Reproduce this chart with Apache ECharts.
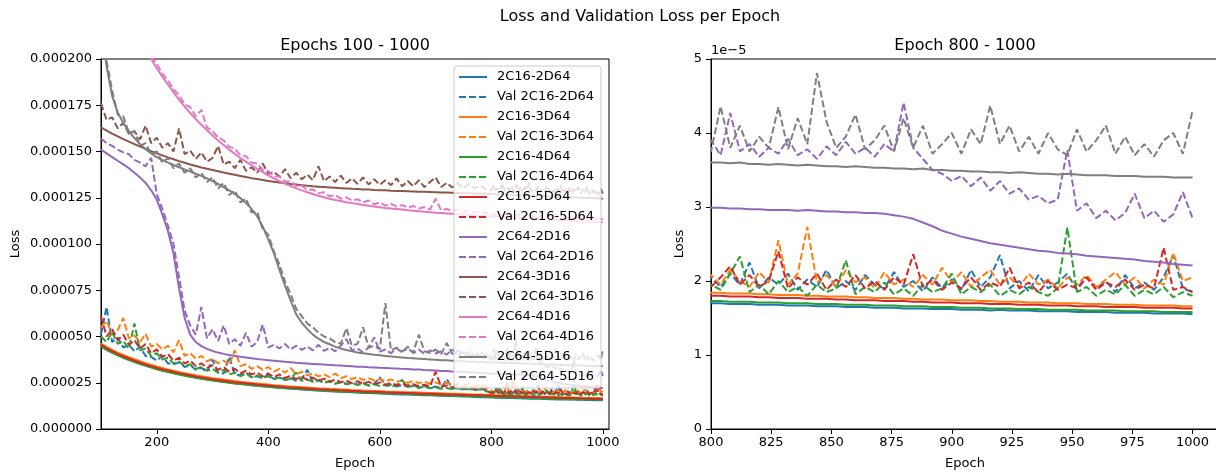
<!DOCTYPE html>
<html><head><meta charset="utf-8">
<script src="https://cdn.jsdelivr.net/npm/echarts@6/dist/echarts.min.js"></script>
<style>html,body{margin:0;padding:0;background:#fff}#c{width:1216px;height:473px}</style>
</head><body><div id="c"></div>
<script>
// values are in units of 1e-5
const UNIT = 1e-5;
const EPOCHS = [
100,110,120,130,140,150,160,170,180,190,
200,210,220,230,240,250,260,270,280,290,
300,310,320,330,340,350,360,370,380,390,
400,410,420,430,440,450,460,470,480,490,
500,510,520,530,540,550,560,570,580,590,
600,610,620,630,640,650,660,670,680,690,
700,710,720,730,740,750,760,770,780,790,
800,804,808,812,816,820,824,828,832,836,
840,844,848,852,856,860,864,868,872,876,
880,884,888,892,896,900,904,908,912,916,
920,924,928,932,936,940,944,948,952,956,
960,964,968,972,976,980,984,988,992,996,
1000];
const MODELS = ['2C16-2D64','2C16-3D64','2C16-4D64','2C16-5D64','2C64-2D16','2C64-3D16','2C64-4D16','2C64-5D16'];
const COLORS = ['#1f77b4','#ff7f0e','#2ca02c','#d62728','#9467bd','#8c564b','#e377c2','#7f7f7f'];
const LEFT_X_TICKS = [200,400,600,800,1000];
const RIGHT_X_TICKS = [800,825,850,875,900,925,950,975,1000];

const LOSS_2C16_2D64 = [
4.50,4.32,4.16,4.01,3.88,3.76,3.65,3.54,3.44,3.35,
3.26,3.18,3.10,3.03,2.96,2.90,2.84,2.78,2.73,2.68,
2.63,2.59,2.55,2.51,2.47,2.43,2.40,2.37,2.34,2.31,
2.28,2.25,2.23,2.20,2.18,2.16,2.14,2.12,2.10,2.08,
2.06,2.04,2.03,2.01,2.00,1.98,1.97,1.95,1.94,1.93,
1.92,1.90,1.89,1.88,1.87,1.86,1.85,1.84,1.83,1.82,
1.81,1.80,1.79,1.78,1.77,1.76,1.75,1.73,1.72,1.71,
1.70,1.70,1.69,1.69,1.69,1.68,1.68,1.68,1.67,1.67,
1.67,1.66,1.66,1.66,1.65,1.65,1.65,1.64,1.64,1.64,
1.63,1.63,1.63,1.62,1.62,1.62,1.61,1.61,1.61,1.60,
1.61,1.60,1.60,1.60,1.59,1.59,1.59,1.59,1.58,1.58,
1.58,1.58,1.57,1.57,1.57,1.57,1.56,1.56,1.56,1.56,
1.55];
const VAL_2C16_2D64 = [
5.10,6.60,4.70,4.95,4.40,4.55,4.20,4.45,3.95,3.90,
3.70,3.95,3.55,3.50,3.60,3.35,3.45,3.20,3.30,3.10,
3.75,3.05,3.00,3.90,2.95,2.90,3.05,2.80,2.85,2.75,
2.95,2.70,2.80,2.65,2.75,2.60,2.70,3.20,2.55,2.65,
2.50,2.60,2.45,2.55,2.45,2.50,2.40,2.50,2.35,2.45,
2.80,2.35,2.40,2.30,2.38,2.28,2.35,2.25,2.32,2.22,
2.30,2.20,2.70,2.18,2.25,2.15,2.22,2.12,2.18,2.10,
2.05,1.92,2.10,1.95,2.25,1.90,2.05,1.95,2.10,1.88,
2.02,1.92,2.15,1.90,2.00,1.88,2.08,1.95,1.90,2.12,
1.92,2.00,1.86,2.05,1.90,2.02,1.88,2.15,1.92,2.05,
2.35,1.90,2.00,1.86,2.08,1.90,1.98,2.10,1.88,2.05,
1.90,2.00,1.85,2.08,1.90,1.98,1.88,2.05,2.35,1.90,
1.85];
const LOSS_2C16_3D64 = [
4.62,4.44,4.28,4.13,4.00,3.88,3.77,3.66,3.56,3.47,
3.38,3.30,3.22,3.15,3.08,3.02,2.96,2.90,2.85,2.80,
2.75,2.71,2.67,2.63,2.59,2.55,2.52,2.49,2.46,2.43,
2.40,2.37,2.35,2.32,2.30,2.28,2.26,2.24,2.22,2.20,
2.19,2.17,2.16,2.14,2.13,2.11,2.10,2.08,2.07,2.06,
2.05,2.03,2.02,2.01,2.00,1.99,1.98,1.97,1.96,1.95,
1.94,1.93,1.92,1.91,1.90,1.89,1.88,1.87,1.86,1.85,
1.84,1.84,1.83,1.83,1.83,1.82,1.82,1.81,1.81,1.81,
1.80,1.80,1.79,1.79,1.79,1.78,1.78,1.77,1.77,1.77,
1.76,1.76,1.75,1.75,1.75,1.74,1.74,1.74,1.73,1.73,
1.72,1.72,1.72,1.71,1.71,1.71,1.70,1.70,1.70,1.69,
1.69,1.69,1.68,1.68,1.68,1.67,1.67,1.67,1.67,1.66,
1.66];
const VAL_2C16_3D64 = [
5.50,5.85,5.10,5.35,6.00,4.90,5.05,4.70,5.15,4.45,
4.60,4.30,4.50,4.15,4.80,3.95,4.10,3.80,3.95,3.65,
3.80,3.55,3.70,3.45,4.25,3.40,3.50,3.25,3.40,3.20,
3.35,3.10,3.25,3.05,3.30,2.95,3.10,2.90,3.00,2.85,
2.95,2.80,3.00,2.75,2.85,2.70,2.80,2.65,2.75,2.62,
2.70,2.58,2.68,2.55,2.62,2.50,2.60,2.48,2.55,2.45,
2.52,2.40,2.50,2.38,2.45,2.35,2.42,2.30,2.38,2.28,
2.08,1.95,2.15,2.00,1.92,2.12,1.98,2.55,1.95,2.10,
2.73,1.98,2.08,1.92,2.15,1.98,2.05,1.90,2.12,1.95,
2.02,1.92,2.08,1.95,2.18,1.98,2.12,1.92,2.05,2.15,
1.95,2.05,1.92,2.10,1.95,2.02,1.90,2.05,1.95,2.08,
1.92,2.02,2.12,1.95,2.05,1.90,2.02,1.95,2.38,2.00,
2.05];
const LOSS_2C16_4D64 = [
4.45,4.28,4.12,3.98,3.85,3.73,3.62,3.51,3.41,3.32,
3.23,3.15,3.08,3.01,2.94,2.88,2.82,2.77,2.72,2.67,
2.62,2.58,2.54,2.50,2.46,2.43,2.40,2.37,2.34,2.31,
2.28,2.26,2.23,2.21,2.19,2.17,2.15,2.13,2.11,2.09,
2.08,2.06,2.04,2.03,2.01,2.00,1.99,1.97,1.96,1.95,
1.94,1.93,1.92,1.91,1.90,1.89,1.88,1.87,1.86,1.85,
1.83,1.82,1.81,1.80,1.79,1.78,1.77,1.76,1.75,1.74,
1.73,1.73,1.72,1.72,1.72,1.71,1.71,1.71,1.70,1.70,
1.70,1.69,1.69,1.69,1.68,1.68,1.68,1.67,1.67,1.67,
1.66,1.66,1.66,1.65,1.65,1.65,1.64,1.64,1.64,1.63,
1.63,1.63,1.62,1.62,1.62,1.61,1.61,1.61,1.61,1.60,
1.60,1.60,1.60,1.59,1.59,1.59,1.59,1.58,1.58,1.58,
1.58];
const VAL_2C16_4D64 = [
5.00,4.70,5.25,4.60,4.75,4.35,5.70,4.25,4.35,3.95,
4.10,3.75,3.85,3.55,3.65,3.40,3.50,3.25,3.35,3.15,
3.25,3.05,3.20,2.95,3.05,2.85,3.00,2.80,2.90,2.75,
2.85,2.70,2.78,2.65,2.72,3.05,2.60,2.68,2.55,2.62,
2.50,2.58,2.45,2.52,2.42,2.48,2.38,2.45,2.35,2.42,
2.32,2.38,2.30,2.35,2.65,2.28,2.32,2.22,2.30,2.20,
2.25,2.18,2.22,2.15,2.20,2.12,2.18,2.10,2.15,2.05,
1.95,1.88,2.10,2.33,1.85,1.95,1.82,2.00,1.85,1.92,
1.80,1.95,1.85,1.90,2.28,1.82,1.92,1.85,1.98,1.82,
1.90,1.80,1.95,1.85,1.90,2.10,1.82,1.92,1.85,1.95,
1.80,1.88,1.82,1.92,1.85,1.80,1.90,2.72,1.85,1.92,
1.80,1.88,1.82,1.95,1.80,1.88,1.82,1.92,1.78,1.85,
1.80];
const LOSS_2C16_5D64 = [
4.55,4.37,4.21,4.06,3.93,3.81,3.70,3.59,3.49,3.40,
3.31,3.23,3.16,3.09,3.02,2.96,2.90,2.84,2.79,2.74,
2.69,2.65,2.61,2.57,2.53,2.50,2.47,2.44,2.41,2.38,
2.35,2.32,2.30,2.27,2.25,2.23,2.21,2.19,2.17,2.15,
2.14,2.12,2.11,2.09,2.08,2.06,2.05,2.03,2.02,2.01,
2.00,1.98,1.97,1.96,1.95,1.94,1.93,1.92,1.91,1.90,
1.89,1.88,1.87,1.86,1.85,1.84,1.83,1.83,1.82,1.81,
1.80,1.80,1.79,1.79,1.79,1.78,1.78,1.77,1.77,1.77,
1.76,1.76,1.76,1.75,1.75,1.74,1.74,1.74,1.73,1.73,
1.73,1.72,1.72,1.71,1.71,1.71,1.70,1.70,1.70,1.69,
1.69,1.69,1.68,1.68,1.68,1.67,1.67,1.67,1.66,1.66,
1.66,1.65,1.65,1.65,1.65,1.64,1.64,1.64,1.64,1.63,
1.63];
const VAL_2C16_5D64 = [
6.10,5.00,5.40,4.80,5.10,4.55,4.80,4.35,4.60,4.10,
4.30,3.90,4.05,3.70,3.85,3.55,3.70,3.40,3.55,3.30,
3.45,3.20,3.35,3.10,3.25,3.00,3.15,2.95,3.05,2.85,
3.00,2.80,2.95,2.75,2.88,2.70,2.82,2.65,2.78,2.60,
2.72,2.55,2.68,2.52,2.62,2.48,2.58,2.45,2.55,2.42,
2.52,2.40,2.48,2.38,2.45,2.35,2.42,2.32,2.40,2.30,
3.10,2.28,2.35,2.25,2.32,2.22,2.30,2.18,2.25,2.15,
1.92,2.05,2.20,1.95,2.08,1.92,2.00,2.40,1.90,2.05,
1.95,2.10,1.88,2.02,1.92,2.08,1.90,2.00,1.88,2.05,
1.95,2.36,1.92,2.02,1.88,1.98,1.90,2.05,1.88,1.98,
1.92,2.18,1.90,1.98,1.85,2.00,1.88,1.95,1.90,2.05,
1.88,1.98,1.92,2.02,1.88,1.95,1.90,2.45,1.88,1.92,
1.85];
const LOSS_2C64_2D16 = [
15.10,14.90,14.70,14.50,14.30,14.10,13.85,13.60,13.30,12.90,
12.40,11.60,10.70,9.50,7.60,6.00,5.10,4.70,4.48,4.33,
4.22,4.13,4.06,4.00,3.95,3.90,3.86,3.82,3.78,3.75,
3.72,3.69,3.66,3.63,3.61,3.58,3.56,3.54,3.52,3.50,
3.48,3.46,3.44,3.43,3.41,3.39,3.37,3.36,3.34,3.33,
3.31,3.30,3.28,3.27,3.25,3.24,3.22,3.21,3.19,3.18,
3.16,3.14,3.13,3.11,3.10,3.08,3.06,3.05,3.03,3.01,
2.99,2.99,2.98,2.98,2.97,2.97,2.96,2.96,2.96,2.95,
2.96,2.95,2.94,2.94,2.93,2.93,2.92,2.92,2.91,2.89,
2.87,2.84,2.79,2.74,2.68,2.64,2.60,2.57,2.54,2.51,
2.49,2.47,2.45,2.43,2.41,2.40,2.38,2.37,2.36,2.34,
2.33,2.32,2.31,2.30,2.29,2.27,2.26,2.25,2.23,2.22,
2.21];
const VAL_2C64_2D16 = [
15.70,15.45,15.30,15.10,14.95,14.85,14.55,14.40,14.20,14.65,
12.70,11.90,11.00,10.00,8.20,6.40,5.60,5.10,6.60,4.90,
5.40,4.75,5.60,4.60,4.85,4.50,5.20,4.45,4.70,5.65,
4.40,4.55,4.35,4.60,4.30,4.50,4.28,4.45,4.25,4.55,
4.22,4.40,4.20,4.50,4.85,4.25,4.35,4.15,4.40,4.95,
4.18,4.30,4.10,4.35,4.15,4.45,4.10,4.30,4.05,4.25,
4.08,4.20,4.02,4.30,3.98,4.15,3.95,4.10,3.92,4.05,
3.90,3.70,4.27,3.75,3.85,3.68,3.80,3.72,3.92,3.70,
3.78,3.65,3.82,3.70,3.88,3.72,3.80,3.68,3.85,3.75,
4.41,3.80,3.65,3.50,3.45,3.35,3.42,3.28,3.40,3.22,
3.35,3.18,3.25,3.10,3.15,3.05,3.10,3.77,2.95,3.05,
2.85,2.95,2.82,2.92,3.18,2.85,2.95,2.80,2.90,3.20,
2.85];
const LOSS_2C64_3D16 = [
16.30,16.13,15.97,15.82,15.67,15.53,15.40,15.27,15.14,15.02,
14.90,14.79,14.68,14.58,14.48,14.39,14.30,14.22,14.14,14.07,
14.00,13.93,13.86,13.80,13.74,13.68,13.62,13.56,13.51,13.46,
13.41,13.36,13.32,13.28,13.24,13.21,13.18,13.15,13.12,13.10,
13.08,13.06,13.04,13.02,13.00,12.98,12.97,12.95,12.94,12.92,
12.91,12.90,12.88,12.87,12.86,12.85,12.84,12.83,12.82,12.81,
12.80,12.79,12.78,12.77,12.76,12.75,12.74,12.73,12.72,12.71,
12.70,12.70,12.69,12.69,12.68,12.68,12.67,12.67,12.66,12.66,
12.65,12.65,12.64,12.64,12.63,12.63,12.62,12.62,12.61,12.61,
12.60,12.60,12.59,12.59,12.58,12.58,12.57,12.57,12.56,12.56,
12.55,12.55,12.54,12.54,12.53,12.53,12.52,12.52,12.51,12.51,
12.50,12.50,12.49,12.49,12.48,12.48,12.47,12.47,12.46,12.46,
12.45];
const VAL_2C64_3D16 = [
17.60,16.70,16.85,16.25,16.55,15.95,16.10,15.65,16.40,15.45,
15.75,15.20,15.45,15.00,16.25,14.85,15.05,14.60,14.95,14.45,
14.65,15.30,14.30,14.45,14.10,14.55,13.95,14.15,13.85,14.35,
13.80,13.90,13.65,14.05,13.55,13.85,13.50,13.75,13.45,14.20,
13.40,13.65,13.35,13.70,13.30,13.55,13.25,13.60,13.22,13.50,
13.20,13.45,13.18,13.55,13.12,13.40,13.12,13.45,13.08,13.35,
13.60,13.08,13.30,13.05,13.28,13.02,13.22,13.00,13.18,12.98,
12.92,13.20,12.88,13.10,12.95,13.28,12.86,13.05,12.90,13.15,
12.85,13.22,12.88,13.05,12.80,13.10,12.92,13.32,12.84,13.00,
12.88,13.12,12.78,13.02,12.86,13.15,12.80,12.98,12.76,13.06,
12.84,13.18,12.74,12.96,12.80,13.05,12.72,12.98,12.82,13.08,
12.70,12.94,12.76,13.10,12.68,12.95,12.74,12.92,12.66,13.00,
12.72];
const LOSS_2C64_4D16 = [
27.00,26.00,25.10,24.20,23.40,22.60,21.90,21.20,20.58,20.00,
19.50,19.05,18.62,18.20,17.80,17.43,17.08,16.75,16.45,16.15,
15.87,15.60,15.35,15.10,14.87,14.65,14.45,14.25,14.06,13.88,
13.71,13.55,13.40,13.26,13.13,13.01,12.90,12.80,12.70,12.61,
12.53,12.45,12.38,12.32,12.26,12.21,12.16,12.11,12.07,12.03,
11.99,11.95,11.92,11.89,11.86,11.83,11.80,11.77,11.74,11.72,
11.69,11.67,11.65,11.63,11.61,11.59,11.57,11.55,11.53,11.51,
11.50,11.49,11.48,11.48,11.47,11.46,11.46,11.45,11.44,11.44,
11.43,11.42,11.42,11.41,11.40,11.40,11.39,11.38,11.38,11.37,
11.36,11.36,11.35,11.34,11.34,11.33,11.32,11.32,11.31,11.30,
11.30,11.29,11.28,11.28,11.27,11.26,11.26,11.25,11.24,11.24,
11.23,11.22,11.22,11.21,11.20,11.20,11.19,11.18,11.18,11.17,
11.17];
const VAL_2C64_4D16 = [
27.20,26.15,25.30,24.35,23.60,22.75,22.10,21.35,20.80,20.15,
19.75,19.20,18.85,18.35,18.05,17.55,17.40,16.90,17.25,16.30,
16.10,15.75,15.60,15.25,15.15,14.80,14.75,14.40,14.35,14.00,
13.95,13.65,13.65,13.38,13.40,13.12,13.15,12.92,12.95,12.75,
12.80,12.58,12.65,12.45,12.52,12.35,12.42,12.25,12.35,12.15,
12.25,12.08,12.18,12.02,12.10,11.97,12.05,11.92,12.00,11.86,
12.45,11.82,11.90,11.78,11.86,11.75,11.82,11.70,11.78,11.66,
11.65,11.56,11.62,11.55,11.66,11.52,11.60,11.54,11.62,11.50,
11.58,11.50,11.62,11.48,11.55,11.47,11.58,11.45,11.53,11.47,
11.55,11.42,11.56,11.44,11.50,11.42,11.54,11.40,11.48,11.42,
11.52,11.37,11.47,11.39,11.50,11.36,11.45,11.37,11.47,11.35,
11.43,11.35,11.46,11.33,11.41,11.34,11.44,11.30,11.40,11.31,
11.37];
const LOSS_2C64_5D16 = [
21.80,19.60,18.00,17.10,16.55,16.10,15.72,15.40,15.12,14.90,
14.70,14.54,14.40,14.27,14.15,14.03,13.92,13.80,13.68,13.55,
13.40,13.25,13.08,12.90,12.70,12.48,12.22,11.90,11.50,10.95,
10.25,9.50,8.60,7.75,6.95,6.20,5.75,5.40,5.10,4.88,
4.70,4.58,4.45,4.35,4.27,4.20,4.14,4.09,4.05,4.01,
3.98,3.95,3.92,3.89,3.87,3.84,3.82,3.80,3.78,3.76,
3.74,3.72,3.71,3.69,3.67,3.66,3.64,3.63,3.62,3.61,
3.60,3.60,3.59,3.60,3.58,3.58,3.57,3.58,3.57,3.56,
3.57,3.56,3.55,3.55,3.54,3.55,3.54,3.53,3.53,3.52,
3.52,3.51,3.52,3.50,3.50,3.49,3.49,3.48,3.48,3.47,
3.47,3.46,3.47,3.46,3.45,3.45,3.44,3.45,3.44,3.43,
3.43,3.43,3.42,3.42,3.42,3.41,3.41,3.41,3.40,3.40,
3.40];
const VAL_2C64_5D16 = [
21.50,19.90,18.30,17.00,16.90,16.00,16.10,15.30,15.45,14.85,
15.00,14.40,14.65,14.10,14.35,13.85,14.10,13.60,13.85,13.35,
13.60,13.00,13.30,12.65,12.90,12.25,12.45,11.70,11.75,10.80,
10.50,9.60,8.90,7.95,7.30,6.50,6.10,5.70,5.50,5.20,
5.00,4.90,4.70,4.60,5.45,4.50,4.60,5.50,4.40,4.50,
4.30,6.80,4.25,4.40,4.20,4.35,4.15,5.10,4.20,4.10,
4.30,4.05,4.65,4.05,4.25,4.00,4.15,3.95,4.20,3.90,
3.75,4.36,3.80,4.10,3.75,3.95,3.80,4.35,3.78,4.20,
3.85,4.81,4.15,3.80,3.95,4.25,3.78,3.90,4.10,3.75,
4.20,3.80,4.10,3.72,3.85,4.00,3.72,4.05,3.85,4.37,
3.85,4.10,3.75,3.95,3.72,4.00,3.78,3.70,4.05,3.75,
3.90,4.10,3.72,3.95,3.70,3.85,3.68,3.90,4.00,3.72,
4.30];

const LOSSES = [LOSS_2C16_2D64, LOSS_2C16_3D64, LOSS_2C16_4D64, LOSS_2C16_5D64,
                LOSS_2C64_2D16, LOSS_2C64_3D16, LOSS_2C64_4D16, LOSS_2C64_5D16];
const VALS = [VAL_2C16_2D64, VAL_2C16_3D64, VAL_2C16_4D64, VAL_2C16_5D64,
              VAL_2C64_2D16, VAL_2C64_3D16, VAL_2C64_4D16, VAL_2C64_5D16];

const FONT = "'DejaVu Sans', sans-serif";
function pts(arr){ const n = Math.min(arr.length, EPOCHS.length); const out=[]; for(let i=0;i<n;i++) out.push([EPOCHS[i], arr[i]*UNIT]); return out; }

const series = [];
const legendNames = [];
MODELS.forEach(m => { legendNames.push(m); legendNames.push('Val ' + m); });
[0,1].forEach(g => {
  MODELS.forEach((m,k) => {
    series.push({name:m, type:'line', xAxisIndex:g, yAxisIndex:g, data:pts(LOSSES[k]),
      symbol:'none', showSymbol:false, animation:false, clip:true,
      lineStyle:{color:COLORS[k], width:2}, itemStyle:{color:COLORS[k]}});
    series.push({name:'Val '+m, type:'line', xAxisIndex:g, yAxisIndex:g, data:pts(VALS[k]),
      symbol:'none', showSymbol:false, animation:false, clip:true,
      lineStyle:{color:COLORS[k], width:2, type:[7,3]}, itemStyle:{color:COLORS[k]}});
  });
});

const axisCommon = {
  axisLine:{show:true, onZero:false, lineStyle:{color:'#000', width:1}},
  axisTick:{show:true, length:5, lineStyle:{color:'#000', width:1}},
  splitLine:{show:false}
};
const labelStyle = {color:'#000', fontSize:13, fontFamily:FONT};

const chart = echarts.init(document.getElementById('c'), null, {renderer:'canvas'});
chart.setOption({
  animation:false,
  backgroundColor:'#fff',
  grid:[
    {left:101, top:59, width:508, height:370, show:true, borderColor:'#000', borderWidth:1, backgroundColor:'transparent', containLabel:false, outerBoundsMode:'none'},
    {left:711, top:59, width:508, height:370, show:true, borderColor:'#000', borderWidth:1, backgroundColor:'transparent', containLabel:false, outerBoundsMode:'none'}
  ],
  xAxis:[
    Object.assign({}, axisCommon, {gridIndex:0, type:'value', min:100, max:1011,
      axisTick:{show:true, length:5, lineStyle:{color:'#000'}, customValues:LEFT_X_TICKS},
      axisLabel:Object.assign({}, labelStyle, {margin:7, customValues:LEFT_X_TICKS, formatter:v => String(v)})}),
    Object.assign({}, axisCommon, {gridIndex:1, type:'value', min:800, max:1011,
      axisTick:{show:true, length:5, lineStyle:{color:'#000'}, customValues:RIGHT_X_TICKS},
      axisLabel:Object.assign({}, labelStyle, {margin:7, customValues:RIGHT_X_TICKS, formatter:v => String(v)})})
  ],
  yAxis:[
    Object.assign({}, axisCommon, {gridIndex:0, type:'value', min:0, max:20*UNIT, interval:2.5*UNIT,
      axisLabel:Object.assign({}, labelStyle, {margin:9, formatter:v => v.toFixed(6)})}),
    Object.assign({}, axisCommon, {gridIndex:1, type:'value', min:0, max:5*UNIT, interval:1*UNIT,
      axisLabel:Object.assign({}, labelStyle, {margin:9, formatter:v => String(Math.round(v/UNIT))})})
  ],
  legend:{
    orient:'vertical', left:454, top:66, itemWidth:28, itemHeight:14, itemGap:6,
    padding:[4,7,4,4], backgroundColor:'rgba(255,255,255,0.8)', borderColor:'#cccccc',
    borderWidth:1, borderRadius:3, selectedMode:false, data:legendNames,
    itemStyle:{opacity:0},
    textStyle:{fontSize:13, fontFamily:FONT, color:'#000', lineHeight:14, padding:[0,0,0,5]}
  },
  graphic:[
    {type:'text', x:640, y:17, style:{text:'Loss and Validation Loss per Epoch', font:'16px '+FONT, fill:'#000', textAlign:'center', textVerticalAlign:'middle', align:'center', verticalAlign:'middle'}},
    {type:'text', x:355, y:46, style:{text:'Epochs 100 - 1000', font:'16px '+FONT, fill:'#000', textAlign:'center', textVerticalAlign:'middle', align:'center', verticalAlign:'middle'}},
    {type:'text', x:965, y:46, style:{text:'Epoch 800 - 1000', font:'16px '+FONT, fill:'#000', textAlign:'center', textVerticalAlign:'middle', align:'center', verticalAlign:'middle'}},
    {type:'text', x:355, y:464, style:{text:'Epoch', font:'13px '+FONT, fill:'#000', textAlign:'center', textVerticalAlign:'middle', align:'center', verticalAlign:'middle'}},
    {type:'text', x:965, y:464, style:{text:'Epoch', font:'13px '+FONT, fill:'#000', textAlign:'center', textVerticalAlign:'middle', align:'center', verticalAlign:'middle'}},
    {type:'text', x:16, y:244, rotation:Math.PI/2, style:{text:'Loss', font:'13px '+FONT, fill:'#000', textAlign:'center', textVerticalAlign:'middle', align:'center', verticalAlign:'middle'}},
    {type:'text', x:680, y:244, rotation:Math.PI/2, style:{text:'Loss', font:'13px '+FONT, fill:'#000', textAlign:'center', textVerticalAlign:'middle', align:'center', verticalAlign:'middle'}},
    {type:'text', x:711, y:51, style:{text:'1e\u22125', font:'13px '+FONT, fill:'#000', textAlign:'left', textVerticalAlign:'middle', align:'left', verticalAlign:'middle'}}
  ],
  series:series
});
</script>
</body></html>
